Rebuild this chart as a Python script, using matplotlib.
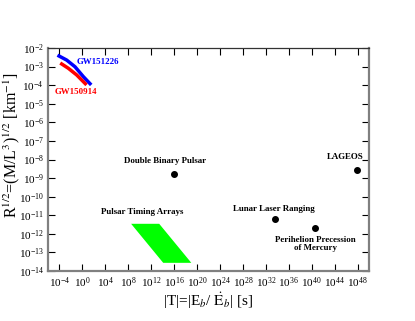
import numpy as np
import matplotlib
matplotlib.use("Agg")
import matplotlib.pyplot as plt
from matplotlib.ticker import LogLocator, LogFormatterMathtext, NullLocator
from matplotlib.patches import Polygon

plt.rcParams['font.family'] = ['Liberation Serif', 'DejaVu Serif']
plt.rcParams['mathtext.fontset'] = 'stix'
plt.rcParams['axes.unicode_minus'] = False

# GW curves (log10 T, log10 R)
gw151226_logT = [-4.08, -2.74, -1.29, 0.16, 1.33]
gw151226_logR = [-2.43, -2.65, -3.01, -3.54, -3.92]
gw150914_logT = [-3.61, -2.46, -1.0, 0.51]
gw150914_logR = [-2.86, -3.09, -3.45, -3.92]

# Point constraints
point_names = ["Double Binary Pulsar", "LAGEOS", "Lunar Laser Ranging",
               "Perihelion Precession\nof Mercury"]
point_logT = [16.0, 47.9, 33.6, 40.6]
point_logR = [-8.77, -8.56, -11.19, -11.68]

# Pulsar timing arrays region (log10 T, log10 R)
pta_logT = [8.5, 13.4, 19.0, 14.1]
pta_logR = [-11.46, -11.46, -13.56, -13.56]

fig = plt.figure(figsize=(4.15, 3.21), dpi=100)
ax = fig.add_axes([48/415, 1-271/321, (369-48)/415, (271-48)/321])
ax.set_xscale('log')
ax.set_yscale('log')
ax.set_xlim(1e-6, 1e50)
ax.set_ylim(1e-14, 1e-2)

tp = lambda a: [10.0**v for v in a]

ax.add_patch(Polygon(list(zip(tp(pta_logT), tp(pta_logR))), closed=True,
                     facecolor='#00ff00', edgecolor='none'))

ax.plot(tp(gw151226_logT), tp(gw151226_logR), color='#0000ff', lw=2.5)
ax.plot(tp(gw150914_logT), tp(gw150914_logR), color='#ff0000', lw=2.5)

ax.plot(tp(point_logT), tp(point_logR), 'o', color='black', ms=4)

bold = dict(fontsize=6.4, fontweight='bold')
ax.text(10**-0.94, 10**-2.75, "GW151226", color='#0000ff', ha='left', va='center', **bold)
ax.text(10**-4.78, 10**-4.37, "GW150914", color='#ff0000', ha='left', va='center', **bold)
ax.text(10**14.4, 10**-8.1, point_names[0], ha='center', va='center', **bold)
ax.text(10**45.8, 10**-7.85, point_names[1], ha='center', va='center', **bold)
ax.text(10**33.4, 10**-10.65, point_names[2], ha='center', va='center', **bold)
ax.text(10**40.6, 10**-12.55, point_names[3], ha='center', va='center',
        linespacing=1.05, **bold)
ax.text(10**10.4, 10**-10.85, "Pulsar Timing Arrays", ha='center', va='center', **bold)

ax.xaxis.set_major_locator(LogLocator(base=10.0**4, numticks=30))
ax.xaxis.set_major_formatter(LogFormatterMathtext(base=10))
ax.xaxis.set_minor_locator(NullLocator())
ax.yaxis.set_major_locator(LogLocator(base=10.0, numticks=30))
ax.yaxis.set_major_formatter(LogFormatterMathtext(base=10))
ax.yaxis.set_minor_locator(NullLocator())
ax.tick_params(which='major', direction='in', length=5, width=0.8,
               top=True, right=True, labelsize=8, pad=3)

for side in ['left', 'right', 'bottom']:
    ax.spines[side].set_color('#808080')
    ax.spines[side].set_linewidth(1.6)
ax.spines['top'].set_color('#333333')
ax.spines['top'].set_linewidth(0.9)

ax.set_xlabel(r"|T|=|E$_b$/ $\dot{\mathrm{E}}_b$| [s]", fontsize=11)
ax.xaxis.set_label_coords((208-48)/321, -(291-271)/223)
ax.set_ylabel(r"R$^{1/2}$=(M/L$^{3}$)$^{1/2}$ [km$^{-1}$]", fontsize=11.5)
ax.yaxis.set_label_coords(-(48-21.5)/321, (271-145)/223)

fig.savefig("out.png", dpi=100)
